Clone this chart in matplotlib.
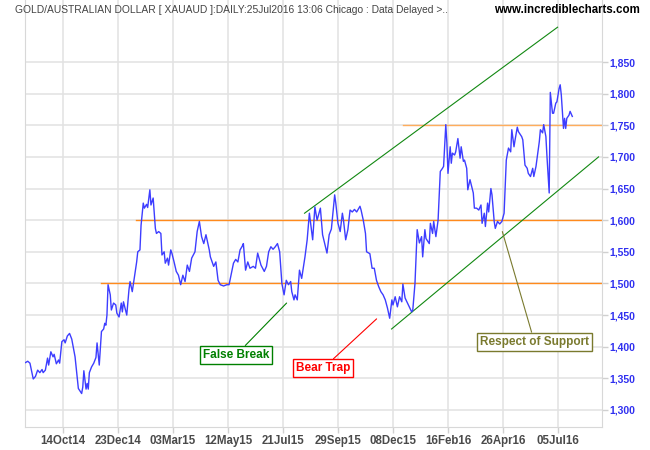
import matplotlib
matplotlib.use("Agg")
import matplotlib.pyplot as plt

# trading-day index (0 = first bar, ~22Aug14) and XAUAUD close
day = [0, 2, 4, 7, 9, 11, 13, 15, 16, 18,
       20, 21, 23, 25, 26, 28, 30, 31, 33, 35,
       36, 38, 40, 42, 45, 48, 51, 52, 53, 55,
       56, 57, 58, 60, 62, 64, 65, 67, 69, 71,
       72, 73, 74, 75, 77, 78, 80, 82, 83, 85,
       87, 88, 89, 92, 94, 95, 97, 99, 101, 102,
       104, 105, 107, 108, 110, 111, 113, 114, 116, 118,
       119, 121, 123, 124, 126, 127, 129, 130, 132, 133,
       135, 137, 139, 141, 143, 145, 147, 149, 151, 154,
       156, 158, 160, 162, 164, 167, 168, 171, 173, 175,
       177, 180, 183, 185, 188, 189, 191, 193, 195, 197,
       198, 200, 202, 204, 207, 209, 211, 214, 217, 219,
       221, 223, 225, 227, 229, 231, 233, 235, 237, 239,
       241, 242, 244, 245, 247, 249, 251, 254, 256, 258,
       261, 263, 265, 268, 270, 274, 276, 278, 281, 282,
       284, 286, 288, 289, 291, 293, 295, 297, 299, 301,
       304, 305, 307, 309, 310, 313, 315, 317, 319, 321,
       323, 325, 327, 329, 331, 333, 334, 336, 338, 340,
       342, 343, 345, 348, 351, 352, 354, 356, 358, 360,
       361, 363, 364, 367, 368, 370, 371, 373, 375, 377,
       379, 380, 382, 383, 384, 386, 387, 388, 390, 391,
       393, 395, 396, 398, 399, 401, 402, 404, 407, 408,
       410, 412, 414, 415, 417, 418, 420, 421, 423, 424,
       426, 427, 429, 431, 433, 435, 437, 439, 441, 442,
       444, 445, 447, 448, 451, 452, 454, 456, 457, 459,
       461, 462, 464, 467, 468, 470, 471, 473, 474, 476,
       477, 479, 480, 482, 483, 485, 486, 487, 489, 490,
       491, 492, 494, 495, 497]
price = [1375, 1377, 1374, 1349, 1353, 1363, 1359, 1364, 1359, 1363,
         1382, 1371, 1392, 1384, 1388, 1373, 1379, 1374, 1408, 1411,
         1406, 1417, 1421, 1412, 1384, 1334, 1326, 1336, 1362, 1333,
         1342, 1333, 1359, 1368, 1374, 1383, 1406, 1371, 1424, 1428,
         1437, 1434, 1450, 1498, 1482, 1458, 1469, 1466, 1453, 1447,
         1469, 1455, 1471, 1450, 1490, 1503, 1487, 1511, 1534, 1550,
         1553, 1592, 1627, 1619, 1625, 1620, 1648, 1624, 1635, 1587,
         1579, 1582, 1579, 1545, 1550, 1532, 1540, 1529, 1553, 1548,
         1534, 1519, 1513, 1498, 1513, 1503, 1529, 1519, 1540, 1550,
         1582, 1598, 1574, 1563, 1577, 1553, 1542, 1527, 1534, 1505,
         1498, 1496, 1498, 1498, 1524, 1532, 1538, 1534, 1553, 1559,
         1563, 1521, 1534, 1524, 1527, 1524, 1548, 1529, 1519, 1527,
         1550, 1558, 1554, 1558, 1563, 1550, 1500, 1482, 1505, 1498,
         1503, 1487, 1474, 1482, 1474, 1521, 1508, 1542, 1569, 1611,
         1569, 1621, 1600, 1619, 1577, 1548, 1577, 1586, 1640, 1627,
         1595, 1582, 1611, 1600, 1569, 1585, 1616, 1613, 1617, 1613,
         1622, 1616, 1600, 1579, 1550, 1547, 1524, 1524, 1505, 1495,
         1487, 1482, 1474, 1461, 1445, 1474, 1466, 1479, 1463, 1479,
         1471, 1499, 1477, 1466, 1455, 1458, 1500, 1585, 1564, 1574,
         1542, 1585, 1571, 1563, 1595, 1579, 1598, 1574, 1600, 1677,
         1682, 1685, 1751, 1722, 1674, 1716, 1690, 1706, 1703, 1708,
         1729, 1698, 1716, 1693, 1695, 1682, 1648, 1664, 1643, 1619,
         1619, 1616, 1624, 1595, 1611, 1590, 1627, 1613, 1650, 1640,
         1598, 1587, 1598, 1594, 1598, 1611, 1695, 1714, 1708, 1743,
         1716, 1727, 1747, 1740, 1732, 1727, 1687, 1682, 1674, 1669,
         1682, 1669, 1685, 1724, 1743, 1738, 1751, 1732, 1700, 1643,
         1802, 1769, 1769, 1785, 1787, 1808, 1814, 1798, 1745, 1761,
         1745, 1761, 1766, 1772, 1764]

tick_days = [34, 84, 134, 184, 234, 284, 334, 384, 434, 484]
tick_labels = ["14Oct14", "23Dec14", "03Mar15", "12May15", "21Jul15",
               "29Sep15", "08Dec15", "16Feb16", "26Apr16", "05Jul16"]
y_ticks = [1300, 1350, 1400, 1450, 1500, 1550, 1600, 1650, 1700, 1750, 1800, 1850]

# support / resistance levels: (level, first day)
levels = [(1500, 69), (1600, 100), (1750, 343)]
level_colors = ["#ff8a1c", "#ff8a1c", "#ffad5c"]

# trend channel lines: (day0, price0, day1, price1)
upper_channel = (253.6, 1611, 483.6, 1905)
lower_channel = (332.7, 1428, 520.9, 1700)

# notes: text, box centre (day, price), arrow tip (day, price), colour
notes = [("False Break", (191.4, 1387), (237.3, 1469), "#008000"),
         ("Bear Trap", (270.6, 1366), (319.1, 1444), "#ff0000"),
         ("Respect of Support", (462.5, 1408), (433.4, 1582), "#7a7a2e")]

SANS = ["Liberation Sans", "DejaVu Sans"]


def main():
    fig = plt.figure(figsize=(6.5, 4.5), dpi=100)
    ax = fig.add_axes([25 / 650, 23 / 450, 577 / 650, 427 / 450])

    ax.set_xlim(-0.5, 524)
    ax.set_ylim(1273.1, 1948)

    ax.grid(True, color="#e2e2e2", lw=1.1)
    ax.set_axisbelow(True)

    for (lvl, start), col in zip(levels, level_colors):
        ax.plot([start, 524], [lvl, lvl], color=col, lw=1.0, zorder=2)

    for d0, p0, d1, p1 in (upper_channel, lower_channel):
        ax.plot([d0, d1], [p0, p1], color="#118811", lw=0.8, zorder=2)

    ax.plot(day, price, color="#3d3dff", lw=1.0, zorder=3)

    for text, box, tip, col in notes:
        ax.annotate(text, xy=tip, xytext=box, ha="center", va="center",
                    color=col, fontsize=8.5, fontweight="bold", family=SANS,
                    bbox=dict(boxstyle="square,pad=0.25", fc="white", ec=col, lw=1.0),
                    arrowprops=dict(arrowstyle="-", color=col, lw=0.8,
                                    shrinkA=0, shrinkB=0),
                    zorder=4)

    ax.set_xticks(tick_days)
    ax.set_xticklabels(tick_labels, family=SANS, fontweight="bold",
                       fontsize=8.3, color="#4a4a4a")
    ax.yaxis.tick_right()
    ax.set_yticks(y_ticks)
    ax.set_yticklabels([f"{v:,}" for v in y_ticks], family=SANS,
                       fontweight="bold", fontsize=7.5, color="#3030f0")
    ax.tick_params(axis="both", length=4, color="#d0d0d0", width=1.0, pad=2)
    ax.tick_params(axis="y", pad=1.5)

    for side in ("left", "bottom", "right"):
        ax.spines[side].set_color("#d8d8d8")
    ax.spines["top"].set_visible(False)

    fig.text(15 / 650, 1 - 10 / 450,
             "GOLD/AUSTRALIAN DOLLAR [ XAUAUD ]:DAILY:25Jul2016 13:06 Chicago : Data Delayed >..",
             family=SANS, fontsize=7.4, color="#444444", va="center", ha="left")
    fig.text(640 / 650, 1 - 10 / 450, "www.incrediblecharts.com",
             family=SANS, fontweight="bold", fontsize=8.3, color="black",
             va="center", ha="right")

    fig.savefig("out.png", dpi=100, facecolor="white")


if __name__ == "__main__":
    main()
